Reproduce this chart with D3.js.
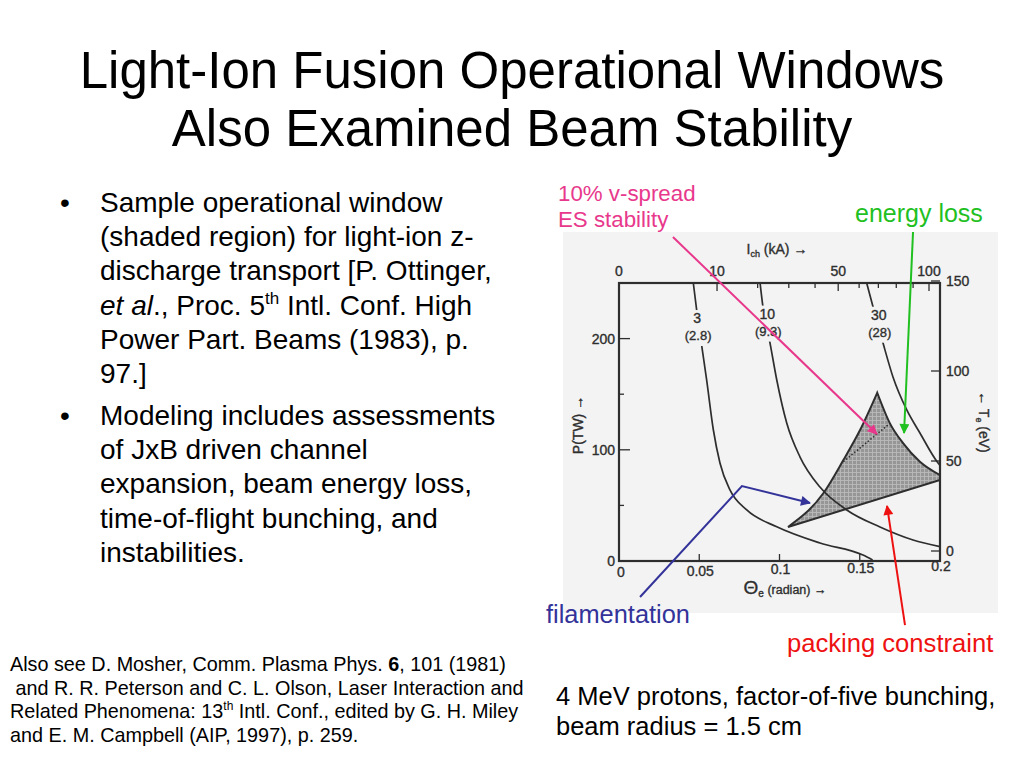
<!DOCTYPE html>
<html>
<head>
<meta charset="utf-8">
<script src="https://cdn.jsdelivr.net/npm/d3@7"></script>
<style>
  html, body { margin: 0; padding: 0; background: #fff; }
  svg { display: block; font-family: "Liberation Sans", Arial, sans-serif; }
</style>
</head>
<body>
<svg id="slide" width="1024" height="768"></svg>
<script>
// values: [theta_e (radian), P (TW)]
const curve3 = [[0.0463, 250], [0.0484, 225.7], [0.0515, 194], [0.0546, 162.8], [0.0588, 117.8],
  [0.0629, 88.1], [0.0692, 63.8], [0.0796, 45.9], [0.0983, 30.8], [0.1252, 16.2], [0.152, 5.4], [0.158, 1]];
const curve10 = [[0.0879, 250], [0.0897, 228.4], [0.0941, 196], [0.0983, 162.8], [0.1045, 124.1],
  [0.1128, 93.5], [0.1252, 66.5], [0.1419, 45.9], [0.1626, 30.6], [0.1832, 18.9], [0.2, 12.9]];
const curve30 = [[0.1543, 250], [0.1583, 228.4], [0.1645, 196], [0.1707, 165.5], [0.1793, 135.8],
  [0.1875, 115.1], [0.1988, 88.1], [0.2, 86]];
const curveLabels = [
  { top: '3', bottom: '(2.8)', theta: 0.0487, p: 214 },
  { top: '10', bottom: '(9.3)', theta: 0.0924, p: 218 },
  { top: '30', bottom: '(28)', theta: 0.1618, p: 217 },
];

// shaded operational window
const windowLeft = [[0.1053, 30.6], [0.1273, 60.9], [0.1398, 90.8], [0.1502, 117.8], [0.1609, 151.3]];
const windowRight = [[0.1609, 151.3], [0.1688, 123.8], [0.1771, 105.8], [0.1875, 89.3], [0.2, 77.3]];
const windowBottom = [[0.2, 77.3], [0.2, 72.8], [0.1053, 30.6]];
const esStability = [[0.1398, 89.3], [0.1688, 123.8]];

// axes
const thetaTicks = [0.05, 0.1, 0.15];
const thetaLabels = ['0', '0.05', '0.1', '0.15', '0.2'];
const powerMajor = [100, 200];
const powerMinor = [50, 150];
const powerLabels = [0, 100, 200];
const tempTicks = [0, 50, 100, 150];
const currentTicks = [10, 20, 30, 40, 50, 60, 70, 80, 90, 100];
const currentLabels = [0, 10, 50, 100];

// annotation arrows, in the same data coordinates
const arrowSpread = [[0.0336, 291.4], [0.1607, 114.2]];
const arrowEnergy = [[0.1832, 295.9], [0.1776, 115.1]];
const arrowFilament = [[0.0131, -32.4], [0.0766, 67.4], [0.119, 52.2]];
const arrowPacking = [[0.1782, -57.6], [0.167, 49.5]];

const svg = d3.select('#slide');
const x = d3.scaleLinear().domain([0, 0.2]).range([619, 940]);
const y = d3.scaleLinear().domain([0, 250]).range([561, 283]);
const yT = d3.scaleLinear().domain([0, 150]).range([551, 281]);
const xI = d3.scaleSqrt().domain([0, 100]).range([619, 929]);
const ink = '#2e2e2e';

const defs = svg.append('defs');
const pat = defs.append('pattern').attr('id', 'hatch').attr('width', 4).attr('height', 4)
  .attr('patternUnits', 'userSpaceOnUse');
pat.append('rect').attr('width', 4).attr('height', 4).attr('fill', '#969696');
pat.append('path').attr('d', 'M0,0.5H4M0.5,0V4').attr('stroke', '#bababa').attr('stroke-width', 0.9);

function marker(id, color) {
  defs.append('marker').attr('id', id).attr('viewBox', '0 0 10 10')
    .attr('refX', 9).attr('refY', 5).attr('markerWidth', 13).attr('markerHeight', 10)
    .attr('markerUnits', 'userSpaceOnUse').attr('orient', 'auto')
    .append('path').attr('d', 'M0,0L10,5L0,10z').attr('fill', color);
}

// ---- slide text ----
svg.append('text').attr('x', 512).attr('y', 88).attr('text-anchor', 'middle')
  .attr('font-size', 51).text('Light-Ion Fusion Operational Windows');
svg.append('text').attr('x', 512).attr('y', 146).attr('text-anchor', 'middle')
  .attr('font-size', 51).text('Also Examined Beam Stability');

const body = svg.append('g').attr('font-size', 28);
const bullets = [
  { y: 212, lines: ['Sample operational window', '(shaded region) for light-ion z-', 'discharge transport [P. Ottinger,', null, 'Power Part. Beams (1983), p.', '97.]'] },
  { y: 425, lines: ['Modeling includes assessments', 'of JxB driven channel', 'expansion, beam energy loss,', 'time-of-flight bunching, and', 'instabilities.'] },
];
bullets.forEach((b) => {
  body.append('text').attr('x', 60).attr('y', b.y).text('•');
  b.lines.forEach((line, i) => {
    const t = body.append('text').attr('x', 100).attr('y', b.y + i * 34.2);
    if (line === null) {
      t.append('tspan').attr('font-style', 'italic').text('et al');
      t.append('tspan').text('., Proc. 5');
      t.append('tspan').attr('font-size', 17).attr('dy', -11).text('th');
      t.append('tspan').attr('dy', 11).text(' Intl. Conf. High');
    } else {
      t.text(line);
    }
  });
});

const refs = svg.append('g').attr('font-size', 19.8);
const r1 = refs.append('text').attr('x', 10).attr('y', 671);
r1.append('tspan').text('Also see D. Mosher, Comm. Plasma Phys. ');
r1.append('tspan').attr('font-weight', 'bold').text('6');
r1.append('tspan').text(', 101 (1981)');
refs.append('text').attr('x', 10).attr('y', 695).attr('xml:space', 'preserve')
  .text(' and R. R. Peterson and C. L. Olson, Laser Interaction and');
const r3 = refs.append('text').attr('x', 10).attr('y', 718);
r3.append('tspan').text('Related Phenomena: 13');
r3.append('tspan').attr('font-size', 12).attr('dy', -8).text('th');
r3.append('tspan').attr('dy', 8).text(' Intl. Conf., edited by G. H. Miley');
refs.append('text').attr('x', 10).attr('y', 742).text('and E. M. Campbell (AIP, 1997), p. 259.');

svg.append('text').attr('x', 556).attr('y', 705).attr('font-size', 25.5)
  .text('4 MeV protons, factor-of-five bunching,');
svg.append('text').attr('x', 556).attr('y', 735).attr('font-size', 25.5)
  .text('beam radius = 1.5 cm');

// ---- scanned figure ----
svg.append('rect').attr('x', 563).attr('y', 232).attr('width', 435).attr('height', 381).attr('fill', '#f3f3f3');

const fig = svg.append('g').attr('fill', ink).attr('font-size', 14)
  .attr('stroke', ink).attr('stroke-width', 0.35);
const line = d3.line().x((d) => x(d[0])).y((d) => y(d[1]));
const smooth = d3.line().x((d) => x(d[0])).y((d) => y(d[1])).curve(d3.curveMonotoneX);

// shaded region
const windowPath = smooth(windowLeft) + smooth(windowRight).replace(/^M/, 'L') + line(windowBottom).replace(/^M/, 'L') + 'Z';
fig.append('path').attr('d', windowPath).attr('fill', 'url(#hatch)').attr('stroke', ink)
  .attr('stroke-width', 2).attr('stroke-linejoin', 'miter');
fig.append('path').attr('d', line(esStability)).attr('fill', 'none').attr('stroke', ink)
  .attr('stroke-width', 1.5).attr('stroke-dasharray', '1.5,2');

// constant-current curves
[curve3, curve10, curve30].forEach((c) => {
  fig.append('path').attr('d', smooth(c)).attr('fill', 'none').attr('stroke', ink).attr('stroke-width', 1.7);
});
curveLabels.forEach((l) => {
  const cx = x(l.theta), cy = y(l.p);
  fig.append('rect').attr('x', cx - 17).attr('y', cy - 13).attr('width', 34).attr('height', 36)
    .attr('fill', '#f3f3f3').attr('stroke', 'none');
  fig.append('text').attr('x', cx).attr('y', cy).attr('text-anchor', 'middle').text(l.top);
  fig.append('text').attr('x', cx + 1).attr('y', cy + 17).attr('text-anchor', 'middle').attr('font-size', 13).text(l.bottom);
});

// frame
fig.append('rect').attr('x', x(0)).attr('y', y(250)).attr('width', x(0.2) - x(0)).attr('height', y(0) - y(250))
  .attr('fill', 'none').attr('stroke', ink).attr('stroke-width', 2.2);

// bottom axis
thetaTicks.forEach((t) => {
  fig.append('line').attr('x1', x(t)).attr('x2', x(t)).attr('y1', y(0)).attr('y2', y(0) - 7)
    .attr('stroke-width', 1.3);
});
[0, 0.05, 0.1, 0.15, 0.2].forEach((t, i) => {
  fig.append('text').attr('x', x(t) + (i === 0 ? 2 : 1)).attr('y', 577 - i * 1.5).attr('text-anchor', 'middle').text(thetaLabels[i]);
});
const xl = fig.append('text').attr('x', 785).attr('y', 594).attr('text-anchor', 'middle');
xl.append('tspan').attr('font-size', 19).text('Θ');
xl.append('tspan').attr('font-size', 10).attr('dy', 3).text('e');
xl.append('tspan').attr('font-size', 12.5).attr('dy', -3).text(' (radian) →');

// left axis
powerMajor.forEach((p) => {
  fig.append('line').attr('x1', x(0)).attr('x2', x(0) + 11).attr('y1', y(p)).attr('y2', y(p))
    .attr('stroke-width', 1.3);
});
powerMinor.forEach((p) => {
  fig.append('line').attr('x1', x(0)).attr('x2', x(0) + 5).attr('y1', y(p)).attr('y2', y(p))
    .attr('stroke-width', 1.3);
});
powerLabels.forEach((p) => {
  fig.append('text').attr('x', x(0) - 4).attr('y', y(p) + 5).attr('text-anchor', 'end').text(p);
});
fig.append('text').attr('transform', 'translate(583,425) rotate(-90)').attr('text-anchor', 'middle')
  .attr('font-size', 14).text('P(TW) →');

// right axis
tempTicks.forEach((t) => {
  fig.append('line').attr('x1', x(0.2)).attr('x2', x(0.2) - 9).attr('y1', yT(t)).attr('y2', yT(t))
    .attr('stroke-width', 1.3);
  fig.append('text').attr('x', x(0.2) + 6).attr('y', yT(t) + 5).text(t);
});
const rl = fig.append('text').attr('transform', 'translate(979,422) rotate(90)').attr('text-anchor', 'middle')
  .attr('font-size', 14);
rl.append('tspan').text('← T');
rl.append('tspan').attr('font-size', 9).attr('dy', 3).text('e');
rl.append('tspan').attr('dy', -3).text(' (eV)');

// top axis (current, square-root spacing)
currentTicks.forEach((c) => {
  const major = c === 10 || c === 50 || c === 100;
  fig.append('line').attr('x1', xI(c)).attr('x2', xI(c)).attr('y1', y(250)).attr('y2', y(250) + (major ? 8 : 5))
    .attr('stroke-width', 1.3);
});
currentLabels.forEach((c) => {
  fig.append('text').attr('x', xI(c)).attr('y', 276).attr('text-anchor', 'middle').text(c);
});
const tl = fig.append('text').attr('x', 777).attr('y', 254).attr('text-anchor', 'middle').attr('font-size', 14);
tl.append('tspan').text('I');
tl.append('tspan').attr('font-size', 9).attr('dy', 3).text('ch');
tl.append('tspan').attr('dy', -3).text(' (kA) →');

// ---- annotations ----
const notes = [
  { pts: arrowSpread, color: '#e8388c', id: 'mSpread' },
  { pts: arrowEnergy, color: '#1fc01f', id: 'mEnergy' },
  { pts: arrowFilament, color: '#33339a', id: 'mFil' },
  { pts: arrowPacking, color: '#ee1111', id: 'mPack' },
];
notes.forEach((n) => {
  marker(n.id, n.color);
  svg.append('path').attr('d', line(n.pts)).attr('fill', 'none').attr('stroke', n.color)
    .attr('stroke-width', 2).attr('marker-end', `url(#${n.id})`);
});

svg.append('text').attr('x', 558).attr('y', 201).attr('font-size', 22.3).attr('fill', '#e8388c').text('10% v-spread');
svg.append('text').attr('x', 558).attr('y', 227).attr('font-size', 22.3).attr('fill', '#e8388c').text('ES stability');
svg.append('text').attr('x', 855).attr('y', 222).attr('font-size', 25).attr('fill', '#1fc01f').text('energy loss');
svg.append('text').attr('x', 546).attr('y', 623).attr('font-size', 25.4).attr('fill', '#33339a').text('filamentation');
svg.append('text').attr('x', 787).attr('y', 652).attr('font-size', 25.6).attr('fill', '#ee1111').text('packing constraint');
</script>
</body>
</html>
